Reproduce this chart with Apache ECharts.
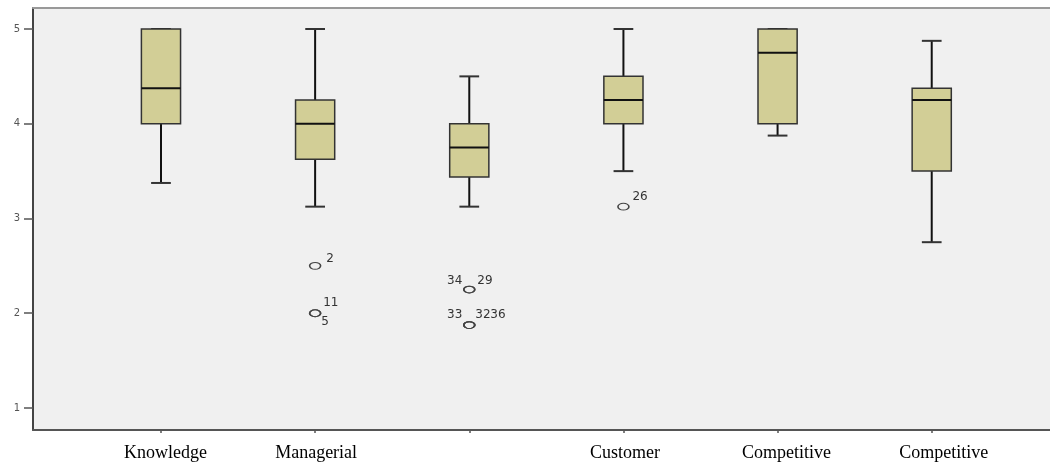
<!DOCTYPE html>
<html><head><meta charset="utf-8">
<script src="https://cdn.jsdelivr.net/npm/echarts@6/dist/echarts.min.js"></script>
<style>html,body{margin:0;padding:0;background:#fff}#c{width:1050px;height:464px}</style>
</head><body><div id="c"></div>
<script>
// ---- data ----
const categories = ['Knowledge', 'Managerial', '', 'Customer', 'Competitive', 'Competitive'];
const whiskerLow  = [3.375, 3.125, 3.125, 3.5,  3.875, 2.75];
const q1          = [4,     3.625, 3.4375, 4,   4,     3.5];
const median      = [4.375, 4,     3.75,  4.25, 4.75,  4.25];
const q3          = [5,     4.25,  4,     4.5,  5,     4.375];
const whiskerHigh = [5,     5,     4.5,   5,    5,     4.875];
const outlierCategory = [1, 1, 1, 2, 2, 2, 2, 2, 3];
const outlierValue    = [2.5, 2, 2, 2.25, 2.25, 1.875, 1.875, 1.875, 3.125];
const outlierCase     = ['2', '11', '5', '34', '29', '33', '32', '36', '26'];
const yTicks = [1, 2, 3, 4, 5];

// ---- style-only placement ----
const caseLabelPlacement = [
  [11, -7, 'left'], [8, -10, 'left'], [6, 9, 'left'],
  [-7, -9, 'right'], [8, -9, 'left'],
  [-7, -10, 'right'], [6, -10, 'left'], [21, -10, 'left'],
  [9, -10, 'left']
];
const categoryLabelPadLeft = [9, 2, 0, 3, 18, 24];

const Y_MIN = 0.7678, Y_MAX = 5.2216;
const boxData = categories.map((c, i) => [i, whiskerLow[i], q1[i], median[i], q3[i], whiskerHigh[i]]);
const outlierData = outlierCategory.map((c, i) => [c, outlierValue[i], i]);
const richLabels = {};
categoryLabelPadLeft.forEach((p, i) => {
  richLabels['p' + i] = {padding: [0, 0, 0, p], color: '#000', fontFamily: 'Liberation Serif', fontSize: 18};
});

const chart = echarts.init(document.getElementById('c'), null, {renderer: 'canvas'});
chart.setOption({
  animation: false,
  grid: [
    {left: 33, right: 0, top: 8, bottom: 34, show: true, backgroundColor: '#f0f0f0', borderWidth: 0},
    {left: 83.9, right: 41.2, top: 8, bottom: 34}
  ],
  xAxis: [
    {gridIndex: 0, type: 'value', min: 0, max: 1, position: 'bottom',
     axisLine: {show: true, lineStyle: {color: '#555', width: 2}},
     axisTick: {show: false}, axisLabel: {show: false}, splitLine: {show: false}},
    {gridIndex: 0, type: 'value', min: 0, max: 1, position: 'top',
     axisLine: {show: true, lineStyle: {color: '#999', width: 2}},
     axisTick: {show: false}, axisLabel: {show: false}, splitLine: {show: false}},
    {gridIndex: 1, type: 'category', data: categories, boundaryGap: true,
     axisLine: {show: false},
     axisTick: {show: true, alignWithLabel: true, length: 3, lineStyle: {color: '#555', width: 1.5}},
     axisLabel: {show: true, interval: 0, margin: 14, color: '#000', fontFamily: 'Liberation Serif', fontSize: 18,
       formatter: function (v, i) { return v ? '{p' + i + '|' + v + '}' : ''; }, rich: richLabels},
     splitLine: {show: false}}
  ],
  yAxis: [
    {gridIndex: 0, type: 'value', min: Y_MIN, max: Y_MAX,
     axisLine: {show: true, lineStyle: {color: '#444', width: 2}},
     axisTick: {show: true, inside: false, customValues: yTicks, length: 9, lineStyle: {color: '#555', width: 1.5}},
     axisLabel: {show: true, customValues: yTicks, margin: 13, color: '#555', fontFamily: 'DejaVu Sans', fontSize: 10},
     splitLine: {show: false}},
    {gridIndex: 1, type: 'value', min: Y_MIN, max: Y_MAX, show: false,
     axisLine: {show: false}, axisTick: {show: false}, axisLabel: {show: false}, splitLine: {show: false}}
  ],
  series: [
    {
      type: 'custom', xAxisIndex: 2, yAxisIndex: 1, data: boxData,
      renderItem: function (params, api) {
        const x = api.value(0);
        const pLow = api.coord([x, api.value(1)]);
        const pQ1 = api.coord([x, api.value(2)]);
        const pMed = api.coord([x, api.value(3)]);
        const pQ3 = api.coord([x, api.value(4)]);
        const pHigh = api.coord([x, api.value(5)]);
        const band = api.size([1, 0])[0];
        const hw = band * 0.127, cw = band * 0.064;
        const cx = pMed[0];
        const lineS = {stroke: '#111', lineWidth: 2};
        return {
          type: 'group',
          children: [
            {type: 'line', shape: {x1: cx, y1: pHigh[1], x2: cx, y2: pQ3[1]}, style: lineS},
            {type: 'line', shape: {x1: cx, y1: pLow[1], x2: cx, y2: pQ1[1]}, style: lineS},
            {type: 'line', shape: {x1: cx - cw, y1: pHigh[1], x2: cx + cw, y2: pHigh[1]}, style: {stroke: '#333', lineWidth: 2}},
            {type: 'line', shape: {x1: cx - cw, y1: pLow[1], x2: cx + cw, y2: pLow[1]}, style: {stroke: '#333', lineWidth: 2}},
            {type: 'rect', shape: {x: cx - hw, y: pQ3[1], width: 2 * hw, height: pQ1[1] - pQ3[1]},
             style: {fill: '#d2ce96', stroke: '#333', lineWidth: 1.5}},
            {type: 'line', shape: {x1: cx - hw, y1: pMed[1], x2: cx + hw, y2: pMed[1]}, style: {stroke: '#111', lineWidth: 2}}
          ]
        };
      }
    },
    {
      type: 'custom', xAxisIndex: 2, yAxisIndex: 1, data: outlierData,
      renderItem: function (params, api) {
        const p = api.coord([api.value(0), api.value(1)]);
        const idx = api.value(2);
        const pl = caseLabelPlacement[idx];
        return {
          type: 'group',
          children: [
            {type: 'circle', x: p[0], y: p[1], scaleY: 0.62, shape: {cx: 0, cy: 0, r: 5.5},
             style: {fill: 'none', stroke: '#444', lineWidth: 1.6}},
            {type: 'text', x: p[0] + pl[0], y: p[1] + pl[1],
             style: {text: outlierCase[idx], fill: '#333', font: '12px "DejaVu Sans"', align: pl[2], verticalAlign: 'middle'}}
          ]
        };
      }
    }
  ]
});
</script>
</body></html>
